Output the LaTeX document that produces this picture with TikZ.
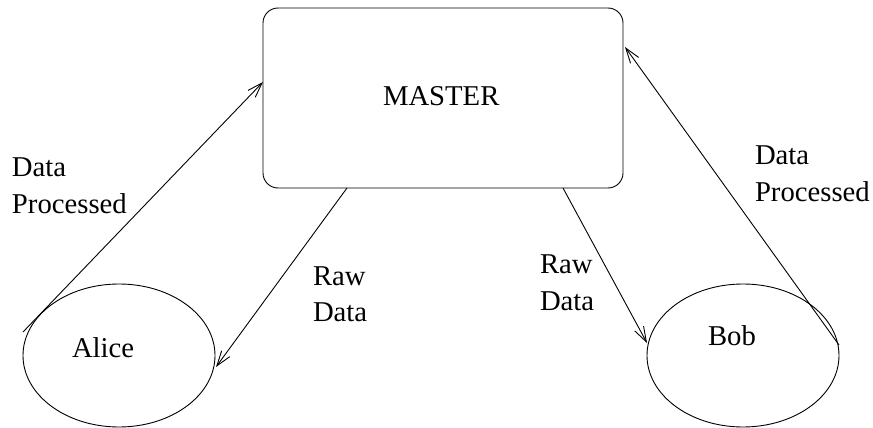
\documentclass[tikz,border=0pt]{standalone}
\usepackage{fontspec}
\setmainfont{Liberation Serif}
\usetikzlibrary{shapes.geometric,arrows.meta}
\begin{document}
\begin{tikzpicture}[x=1pt,y=-1pt,
  every node/.style={inner sep=0pt,outer sep=0pt},
  lbl/.style={font=\fontsize{28.7}{36.5}\selectfont,align=left,anchor=base west},
  conn/.style={line width=0.9pt,-{Straight Barb[length=15pt,width=10pt,line width=0.9pt]}},
  box/.style={draw,line width=0.9pt,rounded corners=15pt,minimum width=360pt,minimum height=180pt},
  oval/.style={draw,line width=0.9pt,ellipse,minimum width=192pt,minimum height=143pt}]
\useasboundingbox (0,0) rectangle (873,428);
\node[box] (master) at (443,98) {};
\node[oval] (alice) at (119,355.5) {};
\node[oval] (bob) at (743,355.5) {};
\node[lbl] (mastertxt) at (383,105) {MASTER};
\node[lbl] (alicetxt) at (72,357) {Alice};
\node[lbl] (bobtxt) at (708,345) {Bob};
\node[lbl] (dpl) at (12,213) {Data\\Processed};
\node[lbl] (dpr) at (755,201) {Data\\Processed};
\node[lbl] (rawl) at (313,321.5) {Raw\\Data};
\node[lbl] (rawr) at (540,310) {Raw\\Data};
\coordinate (a1) at (23,332);
\coordinate (m1) at (263,82);
\coordinate (m2) at (347,188);
\coordinate (a2) at (216,367);
\coordinate (m3) at (563,188);
\coordinate (b1) at (647,343);
\coordinate (b2) at (839,345);
\coordinate (m4) at (625,47);
\draw[conn] (a1) -- (m1);
\draw[conn] (m2) -- (a2);
\draw[conn] (m3) -- (b1);
\draw[conn] (b2) -- (m4);
\end{tikzpicture}
\end{document}
